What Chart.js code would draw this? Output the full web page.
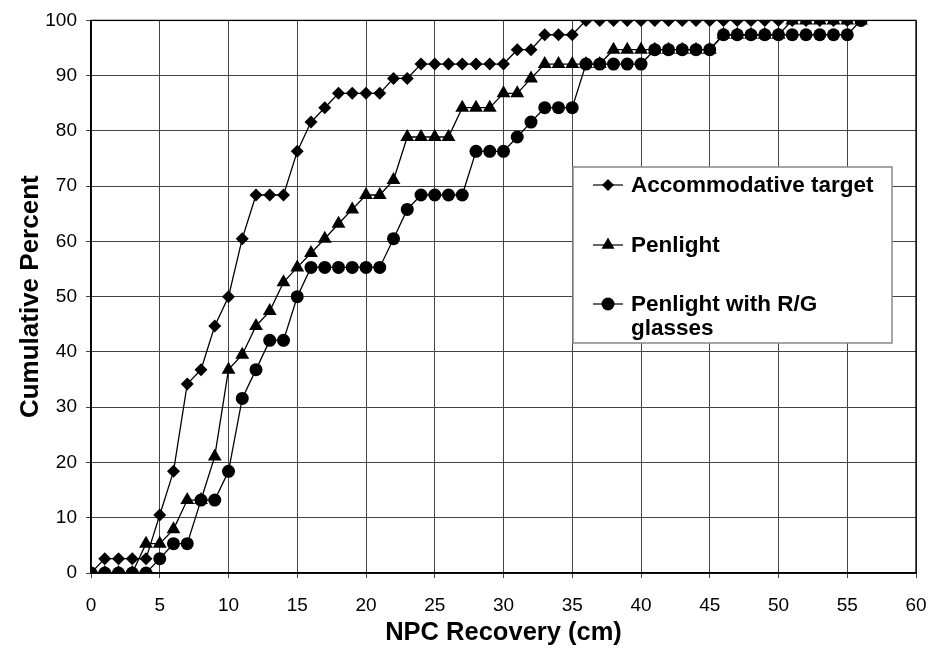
<!DOCTYPE html>
<html>
<head>
<meta charset="utf-8">
<script src="https://cdn.jsdelivr.net/npm/chart.js@4.4.0/dist/chart.umd.min.js"></script>
<style>
  body { margin: 0; background: #fff; }
  #wrap { width: 932px; height: 648px; }
</style>
</head>
<body>
<div id="wrap"><canvas id="myChart" width="932" height="648"></canvas></div>
<script>
// NPC recovery distance (cm), one point per cm
let recovery = []
for (let i = 0; i <= 56; i++) recovery.push(i)

const accommodative = [0, 2.6, 2.6, 2.6, 2.6, 10.5, 18.4, 34.2, 36.8, 44.7,
  50, 60.5, 68.4, 68.4, 68.4, 76.3, 81.6, 84.2, 86.8, 86.8,
  86.8, 86.8, 89.5, 89.5, 92.1, 92.1, 92.1, 92.1, 92.1, 92.1,
  92.1, 94.7, 94.7, 97.4, 97.4, 97.4, 100, 100, 100, 100,
  100, 100, 100, 100, 100, 100, 100, 100, 100, 100,
  100, 100, 100, 100, 100, 100, 100]

const penlight = [0, 0, 0, 0, 5.3, 5.3, 7.9, 13.2, 13.2, 21.1,
  36.8, 39.5, 44.7, 47.4, 52.6, 55.3, 57.9, 60.5, 63.2, 65.8,
  68.4, 68.4, 71.1, 78.9, 78.9, 78.9, 78.9, 84.2, 84.2, 84.2,
  86.8, 86.8, 89.5, 92.1, 92.1, 92.1, 92.1, 92.1, 94.7, 94.7,
  94.7, 94.7, 94.7, 94.7, 94.7, 94.7, 97.4, 97.4, 97.4, 97.4,
  97.4, 100, 100, 100, 100, 100, 100]

const penlightRG = [0, 0, 0, 0, 0, 2.6, 5.3, 5.3, 13.2, 13.2,
  18.4, 31.6, 36.8, 42.1, 42.1, 50, 55.3, 55.3, 55.3, 55.3,
  55.3, 55.3, 60.5, 65.8, 68.4, 68.4, 68.4, 68.4, 76.3, 76.3,
  76.3, 78.9, 81.6, 84.2, 84.2, 84.2, 92.1, 92.1, 92.1, 92.1,
  92.1, 94.7, 94.7, 94.7, 94.7, 94.7, 97.4, 97.4, 97.4, 97.4,
  97.4, 97.4, 97.4, 97.4, 97.4, 97.4, 100]

const seriesNames = ['Accommodative target', 'Penlight', 'Penlight with R/G glasses']
const xTicks = [0, 5, 10, 15, 20, 25, 30, 35, 40, 45, 50, 55, 60]
const yTicks = [0, 10, 20, 30, 40, 50, 60, 70, 80, 90, 100]

const toPoints = (vals) => vals.map((v, i) => ({ x: recovery[i], y: v }))

const drawMarker = (c, style, x, y, r) => {
  c.beginPath()
  if (style === 'rectRot') {
    c.moveTo(x, y - r); c.lineTo(x + r, y); c.lineTo(x, y + r); c.lineTo(x - r, y)
  } else if (style === 'triangle') {
    for (let k = 0; k < 3; k++) {
      const a = k * 2 * Math.PI / 3
      const px = x + Math.sin(a) * r, py = y - Math.cos(a) * r
      k === 0 ? c.moveTo(px, py) : c.lineTo(px, py)
    }
  } else {
    c.arc(x, y, r, 0, Math.PI * 2)
  }
  c.closePath()
  c.fill()
}

// black frame round the plot area
const frame = {
  id: 'frame',
  beforeDatasetsDraw(chart) {
    const a = chart.chartArea, c = chart.ctx
    c.save()
    c.strokeStyle = '#000'
    c.lineWidth = 1.3
    c.strokeRect(a.left, a.top, a.right - a.left, a.bottom - a.top)
    c.restore()
  }
}

// boxed legend with the last label wrapped on two lines
const legendBox = {
  id: 'legendBox',
  afterDraw(chart) {
    const c = chart.ctx
    const styles = ['rectRot', 'triangle', 'circle']
    const sizes = [6, 7.5, 6.5]
    const rows = [185, 245, 304]
    c.save()
    c.fillStyle = '#fff'
    c.fillRect(573, 167, 319, 176)
    c.strokeStyle = '#888'
    c.lineWidth = 1.5
    c.strokeRect(573, 167, 319, 176)
    c.font = 'bold 22.5px "Liberation Sans", Arial, sans-serif'
    c.textBaseline = 'middle'
    c.fillStyle = '#000'
    c.strokeStyle = '#000'
    c.lineWidth = 1.2
    seriesNames.forEach((name, i) => {
      const y = rows[i]
      c.beginPath(); c.moveTo(593, y); c.lineTo(623, y); c.stroke()
      drawMarker(c, styles[i], 608, y, sizes[i])
      if (i === 2) {
        c.fillText('Penlight with R/G', 631, y + 1)
        c.fillText('glasses', 631, y + 25)
      } else {
        c.fillText(name, 631, y + 1)
      }
    })
    c.restore()
  }
}

const tickFont = { family: '"Liberation Sans", Arial, sans-serif', size: 19 }

const ctx = document.getElementById('myChart').getContext('2d');
const myChart = new Chart(ctx, {
  type: 'line',
  data: {
    datasets: [{
      label: seriesNames[0],
      data: toPoints(accommodative),
      pointStyle: 'rectRot',
      pointRadius: 6.5,
      order: 3
    }, {
      label: seriesNames[1],
      data: toPoints(penlight),
      pointStyle: 'triangle',
      pointRadius: 8,
      order: 2
    }, {
      label: seriesNames[2],
      data: toPoints(penlightRG),
      pointStyle: 'circle',
      pointRadius: 6.5,
      order: 1
    }].map(d => Object.assign(d, {
      borderColor: '#000',
      backgroundColor: '#000',
      pointBackgroundColor: '#000',
      pointBorderColor: '#000',
      pointBorderWidth: 0,
      borderWidth: 1.3,
      fill: false,
      tension: 0
    }))
  },
  options: {
    responsive: false,
    animation: false,
    devicePixelRatio: 1,
    layout: { padding: { top: 19, right: 0, left: 0, bottom: 0 } },
    plugins: { legend: { display: false }, tooltip: { enabled: false } },
    scales: {
      x: {
        type: 'linear',
        min: 0,
        max: 60,
        afterBuildTicks: (s) => { s.ticks = xTicks.map(v => ({ value: v })) },
        afterFit: (s) => { s.height = 75; s.paddingRight = 16; s.paddingLeft = 0 },
        ticks: { font: tickFont, color: '#000', padding: 16, maxRotation: 0 },
        grid: { color: '#444', lineWidth: 1, tickLength: 5, tickColor: '#444' },
        border: { color: '#000', width: 1.3 },
        title: {
          display: true, text: 'NPC Recovery (cm)', color: '#000',
          font: { family: '"Liberation Sans", Arial, sans-serif', size: 25.5, weight: 'bold' },
          padding: { top: 0, bottom: 0 }
        }
      },
      y: {
        min: 0,
        max: 100,
        afterBuildTicks: (s) => { s.ticks = yTicks.map(v => ({ value: v })) },
        afterFit: (s) => { s.width = 91 },
        ticks: { font: tickFont, color: '#000', padding: 9 },
        grid: { color: '#444', lineWidth: 1, tickLength: 5, tickColor: '#444' },
        border: { color: '#000', width: 1.3 },
        title: {
          display: true, text: 'Cumulative Percent', color: '#000',
          font: { family: '"Liberation Sans", Arial, sans-serif', size: 26, weight: 'bold' },
          padding: { top: 15, bottom: 0 }
        }
      }
    }
  },
  plugins: [frame, legendBox]
});
</script>
</body>
</html>
